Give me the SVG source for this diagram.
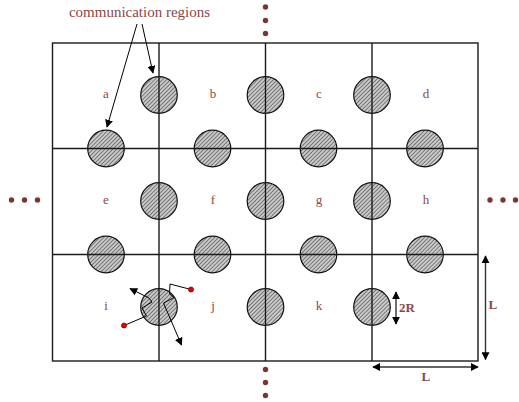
<svg xmlns="http://www.w3.org/2000/svg" width="519" height="402" viewBox="0 0 519 402">
<style>
.lbl{font-family:"Liberation Serif","Times New Roman",serif;font-size:13px;fill:#8b4747;text-anchor:middle;dominant-baseline:central}
.bold{font-family:"Liberation Serif","Times New Roman",serif;font-size:13px;font-weight:bold;fill:#8b4747;dominant-baseline:central}
.grid{stroke:#1a1a1a;stroke-width:1.4;fill:none}
.cr{fill:url(#hatch);stroke:#111;stroke-width:1.2}
.dot{fill:#7b3535}
.ln{stroke:#000;stroke-width:1;fill:none}
.dim{stroke:#333;stroke-width:1.4;fill:none}
.red{fill:#e00000;stroke:#600;stroke-width:0.6}
</style>
<defs>
<pattern id="hatch" width="2.8" height="2.8" patternUnits="userSpaceOnUse" patternTransform="rotate(45)">
<rect width="2.8" height="2.8" fill="#cbcbcb"/>
<line x1="0" y1="0" x2="0" y2="2.8" stroke="#333" stroke-width="1.1"/>
</pattern>
<marker id="ah" viewBox="0 0 10 10" refX="9" refY="5" markerWidth="8" markerHeight="8" markerUnits="userSpaceOnUse" orient="auto-start-reverse">
<path d="M0,0 L10,5 L0,10 z" fill="#000"/>
</marker>
</defs>

<g id="regions">
<circle class="cr" cx="159" cy="95" r="18.3"/>
<circle class="cr" cx="265.5" cy="95" r="18.3"/>
<circle class="cr" cx="372" cy="95" r="18.3"/>
<circle class="cr" cx="159" cy="201" r="18.3"/>
<circle class="cr" cx="265.5" cy="201" r="18.3"/>
<circle class="cr" cx="372" cy="201" r="18.3"/>
<circle class="cr" cx="159" cy="307" r="18.3"/>
<circle class="cr" cx="265.5" cy="307" r="18.3"/>
<circle class="cr" cx="372" cy="307" r="18.3"/>
<circle class="cr" cx="106" cy="148.5" r="18.3"/>
<circle class="cr" cx="212.5" cy="148.5" r="18.3"/>
<circle class="cr" cx="318.5" cy="148.5" r="18.3"/>
<circle class="cr" cx="425" cy="148.5" r="18.3"/>
<circle class="cr" cx="106" cy="254.5" r="18.3"/>
<circle class="cr" cx="212.5" cy="254.5" r="18.3"/>
<circle class="cr" cx="318.5" cy="254.5" r="18.3"/>
<circle class="cr" cx="425" cy="254.5" r="18.3"/>
</g>

<g id="grid">
<rect class="grid" x="52.5" y="43" width="425.5" height="318"/>
<line class="grid" x1="159" y1="43" x2="159" y2="361"/>
<line class="grid" x1="265.5" y1="43" x2="265.5" y2="361"/>
<line class="grid" x1="372" y1="43" x2="372" y2="361"/>
<line class="grid" x1="52.5" y1="148.5" x2="478" y2="148.5"/>
<line class="grid" x1="52.5" y1="254.5" x2="478" y2="254.5"/>
</g>

<g id="cell-a"><text class="lbl" x="106" y="93.5">a</text></g>
<g id="cell-b"><text class="lbl" x="213" y="93.5">b</text></g>
<g id="cell-c"><text class="lbl" x="319" y="93.5">c</text></g>
<g id="cell-d"><text class="lbl" x="426" y="93.5">d</text></g>
<g id="cell-e"><text class="lbl" x="106" y="199">e</text></g>
<g id="cell-f"><text class="lbl" x="213" y="199">f</text></g>
<g id="cell-g"><text class="lbl" x="319" y="199">g</text></g>
<g id="cell-h"><text class="lbl" x="426" y="199">h</text></g>
<g id="cell-i"><text class="lbl" x="106" y="305">i</text></g>
<g id="cell-j"><text class="lbl" x="213" y="305">j</text></g>
<g id="cell-k"><text class="lbl" x="319" y="305">k</text></g>

<g id="continuation">
<circle class="dot" cx="265.5" cy="7" r="2.7"/>
<circle class="dot" cx="265.5" cy="20.5" r="2.7"/>
<circle class="dot" cx="265.5" cy="33.5" r="2.7"/>
<circle class="dot" cx="265.5" cy="369.5" r="2.7"/>
<circle class="dot" cx="265.5" cy="382.5" r="2.7"/>
<circle class="dot" cx="265.5" cy="395.5" r="2.7"/>
<circle class="dot" cx="11.5" cy="200" r="2.7"/>
<circle class="dot" cx="24.5" cy="200" r="2.7"/>
<circle class="dot" cx="37.5" cy="200" r="2.7"/>
<circle class="dot" cx="490" cy="200" r="2.7"/>
<circle class="dot" cx="503" cy="200" r="2.7"/>
<circle class="dot" cx="515.5" cy="200" r="2.7"/>
</g>

<g id="label-communication">
<text class="lbl" x="139.5" y="12" style="font-size:15px">communication regions</text>
</g>

<g id="connectors">
<line class="ln" x1="137" y1="24" x2="107" y2="127" marker-end="url(#ah)"/>
<line class="ln" x1="142" y1="24" x2="153" y2="73" marker-end="url(#ah)"/>
<polyline class="ln" points="124,325.5 146.5,316 142,308 152,302 149,298 130,288.5" marker-end="url(#ah)"/>
<polyline class="ln" points="191,289.5 170,284 169.5,294 174,297.5 163.5,303 181.5,345" marker-end="url(#ah)"/>
<circle class="red" cx="124" cy="325.5" r="2.6"/>
<circle class="red" cx="191" cy="289.5" r="2.6"/>
<line class="dim" x1="396" y1="292" x2="396" y2="324" marker-start="url(#ah)" marker-end="url(#ah)"/>
<line class="dim" x1="485.5" y1="256" x2="485.5" y2="359.5" marker-start="url(#ah)" marker-end="url(#ah)"/>
<line class="dim" x1="373" y1="367" x2="478" y2="367" marker-start="url(#ah)" marker-end="url(#ah)"/>
</g>

<g id="dim-labels">
<text class="bold" x="399" y="307.5">2R</text>
<text class="bold" x="488.5" y="304.5">L</text>
<text class="bold" x="421.5" y="376.5">L</text>
</g>
</svg>
